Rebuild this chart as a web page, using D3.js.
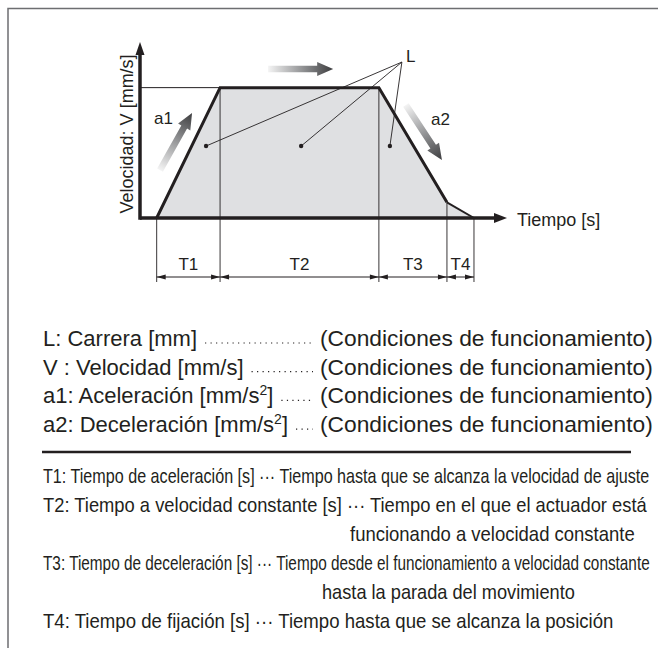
<!DOCTYPE html>
<html>
<head>
<meta charset="utf-8">
<script src="https://cdn.jsdelivr.net/npm/d3@7"></script>
<style>
	body { margin: 0; background: #fff; }
	svg text { font-family: "Liberation Sans", Arial, Helvetica, sans-serif; fill: #231f20; }
</style>
</head>
<body>
<div id="chart"></div>
<script>
// Perfil de velocidad (tiempo en unidades arbitrarias, velocidad relativa)
const profileTime = [0.5, 2.4, 7.16, 9.2, 10.01];
const profileSpeed = [0, 1, 1, 0.12, 0];
const phaseLabels = ["T1", "T2", "T3", "T4"];

// Anotaciones del diagrama (en coordenadas de datos)
const leaderOrigin = [7.85, 1.196];
const leaderDots = [[1.98, 0.552], [4.83, 0.552], [7.49, 0.552]];
const gradientArrows = [
	[[3.84, 1.143], [5.79, 1.143]],
	[[0.6, 0.368], [1.56, 0.805]],
	[[7.97, 0.867], [9.05, 0.445]]
];
const slopeLabels = [["a1", 0.42, 0.72], ["a2", 8.72, 0.713]];

// Textos
const legendLabels = ["L: Carrera [mm]", "V : Velocidad [mm/s]", "a1: Aceleración [mm/s²]", "a2: Deceleración [mm/s²]"];
const legendNote = "(Condiciones de funcionamiento)";
const noteLines = [
	"T1: Tiempo de aceleración [s] ··· Tiempo hasta que se alcanza la velocidad de ajuste",
	"T2: Tiempo a velocidad constante [s] ··· Tiempo en el que el actuador está",
	"funcionando a velocidad constante",
	"T3: Tiempo de deceleración [s] ··· Tiempo desde el funcionamiento a velocidad constante",
	"hasta la parada del movimiento",
	"T4: Tiempo de fijación [s] ··· Tiempo hasta que se alcanza la posición"
];

const W = 658, H = 653;
const ink = "#231f20";

const svg = d3.select("#chart").append("svg")
	.attr("width", W)
	.attr("height", H);

// marco
svg.append("path")
	.attr("d", "M8,648 V8.5 H658")
	.attr("fill", "none")
	.attr("stroke", "#6d6e71")
	.attr("stroke-width", 1.5);

const x = d3.scaleLinear().domain([0, 11]).range([140, 507]);
const y = d3.scaleLinear().domain([0, 1.35]).range([218, 42]);

const profile = profileTime.map((t, i) => [t, profileSpeed[i]]);
const line = d3.line().x(d => x(d[0])).y(d => y(d[1]));

// relleno del trapecio
svg.append("path")
	.datum(profile)
	.attr("d", line)
	.attr("fill", "#dfe0e2")
	.attr("stroke", "none");

// línea fina hasta el eje y
svg.append("line")
	.attr("x1", x(0)).attr("x2", x(profileTime[1]))
	.attr("y1", y(1)).attr("y2", y(1))
	.attr("stroke", ink).attr("stroke-width", 1);

// líneas verticales de cotas
const dimY = y(0) + 59;
svg.selectAll(".vline")
	.data(profile)
	.enter()
	.append("line")
	.attr("class", "vline")
	.attr("x1", d => x(d[0])).attr("x2", d => x(d[0]))
	.attr("y1", d => y(d[1])).attr("y2", dimY + 5)
	.attr("stroke", ink).attr("stroke-width", 0.9);

// perfil (trazo grueso)
svg.append("path")
	.datum(profile.slice(0, 4))
	.attr("d", line)
	.attr("fill", "none")
	.attr("stroke", ink)
	.attr("stroke-width", 3);

svg.append("path")
	.datum(profile.slice(3))
	.attr("d", line)
	.attr("fill", "none")
	.attr("stroke", ink)
	.attr("stroke-width", 2);

// ejes
svg.append("line")
	.attr("x1", x(0)).attr("x2", x(11) - 10)
	.attr("y1", y(0)).attr("y2", y(0))
	.attr("stroke", ink).attr("stroke-width", 3.5);
svg.append("path")
	.attr("d", `M${x(11)},${y(0)} L${x(11) - 13},${y(0) - 5} L${x(11) - 13},${y(0) + 5} Z`)
	.attr("fill", ink);

svg.append("line")
	.attr("x1", x(0)).attr("x2", x(0))
	.attr("y1", y(0) + 1.75).attr("y2", y(1.35) + 10)
	.attr("stroke", ink).attr("stroke-width", 3.5);
svg.append("path")
	.attr("d", `M${x(0)},${y(1.35)} L${x(0) - 4.5},${y(1.35) + 13} L${x(0) + 4.5},${y(1.35) + 13} Z`)
	.attr("fill", ink);

svg.append("text")
	.attr("x", x(11) + 10)
	.attr("y", y(0) + 8)
	.attr("font-size", 18)
	.text("Tiempo [s]");

svg.append("text")
	.attr("transform", `translate(133, ${y(0.645)}) rotate(-90)`)
	.attr("text-anchor", "middle")
	.attr("font-size", 18)
	.text("Velocidad: V [mm/s]");

// cotas T1..T4
const phases = phaseLabels.map((label, i) => ({ label, t0: profileTime[i], t1: profileTime[i + 1] }));

svg.selectAll(".dim")
	.data(phases)
	.enter()
	.append("line")
	.attr("class", "dim")
	.attr("x1", d => x(d.t0)).attr("x2", d => x(d.t1))
	.attr("y1", dimY).attr("y2", dimY)
	.attr("stroke", ink).attr("stroke-width", 1);

const heads = [];
phases.forEach(d => {
	heads.push({ px: x(d.t0), dir: 1 });
	heads.push({ px: x(d.t1), dir: -1 });
});
svg.selectAll(".dimhead")
	.data(heads)
	.enter()
	.append("path")
	.attr("class", "dimhead")
	.attr("d", d => `M${d.px},${dimY} L${d.px + d.dir * 9},${dimY - 2.6} L${d.px + d.dir * 9},${dimY + 2.6} Z`)
	.attr("fill", ink);

svg.selectAll(".dimlabel")
	.data(phases)
	.enter()
	.append("text")
	.attr("class", "dimlabel")
	.attr("x", d => (x(d.t0) + x(d.t1)) / 2)
	.attr("y", dimY - 7)
	.attr("text-anchor", "middle")
	.attr("font-size", 17)
	.text(d => d.label);

// flechas con degradado
const defs = svg.append("defs");
gradientArrows.forEach((a, i) => {
	const x0 = x(a[0][0]), y0 = y(a[0][1]);
	const x1 = x(a[1][0]), y1 = y(a[1][1]);
	const len = Math.hypot(x1 - x0, y1 - y0);
	const ang = Math.atan2(y1 - y0, x1 - x0) * 180 / Math.PI;
	const grad = defs.append("linearGradient")
		.attr("id", "grad" + i)
		.attr("gradientUnits", "userSpaceOnUse")
		.attr("x1", 0).attr("y1", 0)
		.attr("x2", len).attr("y2", 0);
	grad.append("stop").attr("offset", 0).attr("stop-color", "#f4f4f4");
	grad.append("stop").attr("offset", 0.55).attr("stop-color", "#8e8f91");
	grad.append("stop").attr("offset", 1).attr("stop-color", "#3d3d3f");
	const hl = 16, sw = 3.3, hw = 7;
	svg.append("path")
		.attr("transform", `translate(${x0},${y0}) rotate(${ang})`)
		.attr("d", `M0,${-sw} L${len - hl},${-sw} L${len - hl},${-hw} L${len},0 L${len - hl},${hw} L${len - hl},${sw} L0,${sw} Z`)
		.attr("fill", `url(#grad${i})`);
});

// L con líneas de referencia
svg.selectAll(".leader")
	.data(leaderDots)
	.enter()
	.append("line")
	.attr("class", "leader")
	.attr("x1", x(leaderOrigin[0])).attr("y1", y(leaderOrigin[1]))
	.attr("x2", d => x(d[0])).attr("y2", d => y(d[1]))
	.attr("stroke", ink).attr("stroke-width", 0.9);

svg.selectAll(".ldot")
	.data(leaderDots)
	.enter()
	.append("circle")
	.attr("class", "ldot")
	.attr("cx", d => x(d[0])).attr("cy", d => y(d[1]))
	.attr("r", 2.2)
	.attr("fill", ink);

svg.append("text")
	.attr("x", x(leaderOrigin[0]) + 4)
	.attr("y", y(leaderOrigin[1]))
	.attr("font-size", 17)
	.text("L");

svg.selectAll(".slope")
	.data(slopeLabels)
	.enter()
	.append("text")
	.attr("class", "slope")
	.attr("x", d => x(d[1]))
	.attr("y", d => y(d[2]))
	.attr("font-size", 17)
	.text(d => d[0]);

// texto ajustado a un ancho dado (escala horizontal)
function fitText(str, left, base, size, width) {
	const t = svg.append("text")
		.attr("font-size", size)
		.text(str);
	const natural = t.node().getComputedTextLength();
	t.attr("transform", `translate(${left},${base}) scale(${width / natural},1)`);
	return t;
}

// leyenda
const legendTop = 346, legendStep = 28.7;
legendLabels.forEach((label, i) => {
	const by = legendTop + i * legendStep;
	const parts = label.split("²");
	const t = svg.append("text")
		.attr("x", 43)
		.attr("y", by)
		.attr("font-size", 22);
	t.append("tspan").text(parts[0]);
	if (parts.length > 1) {
		t.append("tspan").attr("font-size", 14).attr("dy", -8).text("2");
		t.append("tspan").attr("dy", 8).text(parts[1]);
	}
	const endX = 43 + t.node().getComputedTextLength();

	fitText(legendNote, 320, by, 22, 333);

	svg.append("line")
		.attr("x1", endX + 8).attr("x2", 313)
		.attr("y1", by - 3).attr("y2", by - 3)
		.attr("stroke", ink)
		.attr("stroke-width", 1.2)
		.attr("stroke-dasharray", "1.2,4.3");
});

svg.append("line")
	.attr("x1", 42).attr("x2", 631)
	.attr("y1", 452).attr("y2", 452)
	.attr("stroke", ink).attr("stroke-width", 2.5);

// notas T1..T4
const noteX = [43, 43, 350, 43, 322, 43];
const noteLen = [607, 604, 285, 607, 253, 571];
noteLines.forEach((str, i) => {
	fitText(str, noteX[i], 483 + i * 29, 20, noteLen[i]);
});
</script>
</body>
</html>
